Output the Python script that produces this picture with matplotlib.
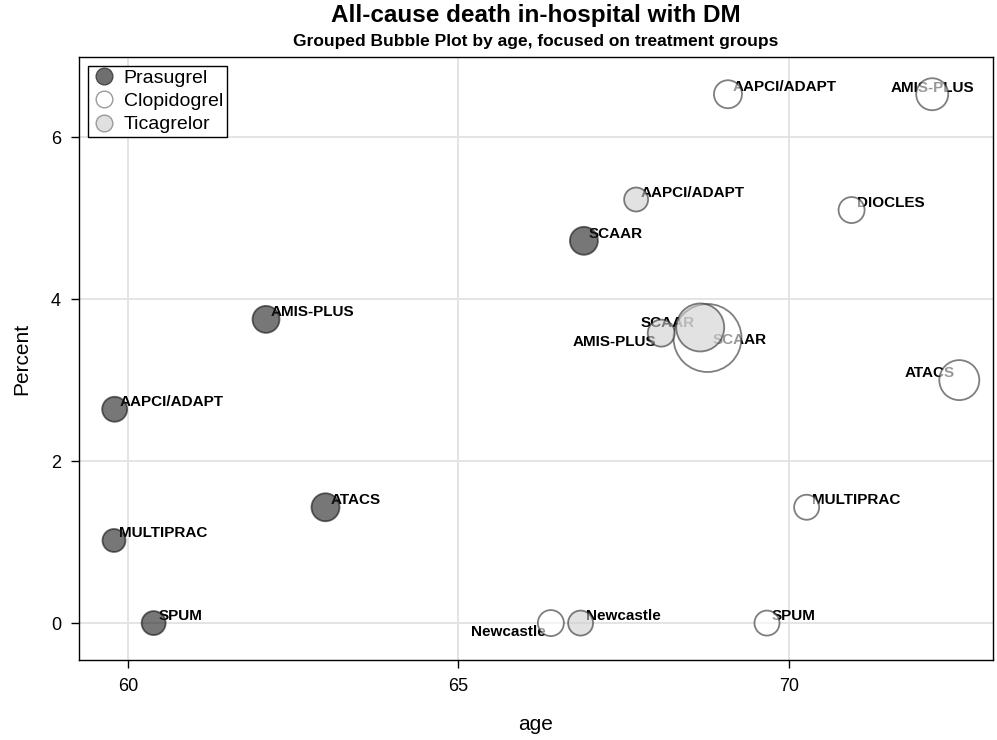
#!/usr/bin/env python3

import matplotlib

matplotlib.use("Agg")
import matplotlib.pyplot as plt
from matplotlib.lines import Line2D

plt.rcParams["font.family"] = ["Liberation Sans", "DejaVu Sans"]

# Prasugrel
prasugrel_labels = ["AAPCI/ADAPT", "MULTIPRAC", "SPUM", "AMIS-PLUS", "ATACS", "SCAAR"]
prasugrel_age = [59.80, 59.79, 60.39, 62.09, 62.99, 66.90]
prasugrel_pct = [2.64, 1.02, 0.0, 3.75, 1.43, 4.72]
prasugrel_size = [12.5, 11.5, 12.0, 13.5, 14.0, 14.0]

# Clopidogrel
clopidogrel_labels = ["AAPCI/ADAPT", "AMIS-PLUS", "DIOCLES", "ATACS", "MULTIPRAC",
                      "SPUM", "Newcastle", "SCAAR"]
clopidogrel_age = [69.08, 72.17, 70.95, 72.58, 70.27, 69.67, 66.40, 68.77]
clopidogrel_pct = [6.53, 6.53, 5.10, 3.00, 1.43, 0.0, 0.0, 3.52]
clopidogrel_size = [14.0, 16.0, 13.0, 20.0, 12.5, 12.5, 13.0, 34.0]

# Ticagrelor
ticagrelor_labels = ["AAPCI/ADAPT", "AMIS-PLUS", "SCAAR", "Newcastle"]
ticagrelor_age = [67.69, 68.07, 68.66, 66.85]
ticagrelor_pct = [5.23, 3.58, 3.65, 0.0]
ticagrelor_size = [12.0, 13.5, 24.0, 12.5]

# label placement codes (SAS-like collision avoidance)
prasugrel_place = ["ur"] * 6
clopidogrel_place = ["ur", "top", "ur", "left", "ur", "ur", "lowleft", "right"]
ticagrelor_place = ["ur", "lowleft", "left0", "ur"]

PLACES = {
    "ur": (5, 3, "left"),
    "top": (0, 2, "center"),
    "left": (-4.5, 3, "right"),
    "left0": (-5, 0, "right"),
    "lowleft": (-5, -13, "right"),
    "right": (5, -6, "left"),
}

DPI = 100


def Area(radius_px):
    diameter_pt = 2 * radius_px * 72.0 / DPI
    return diameter_pt ** 2


def DrawGroup(ax, ages, pcts, sizes, labels, places, face, edge):
    for age, pct, label, place in zip(ages, pcts, labels, places):
        dx, dy, ha = PLACES[place]
        ax.annotate(label, (age, pct), xytext=(dx, dy), textcoords="offset pixels",
                    ha=ha, va="baseline", fontsize=11, fontweight="bold",
                    color="black", zorder=2)
    ax.scatter(ages, pcts, s=[Area(r) for r in sizes], facecolor=face,
               edgecolor=edge, linewidths=1.3, alpha=0.6, zorder=3)


fig = plt.figure(figsize=(9.97, 7.4), dpi=DPI)
ax = fig.add_axes([0.0792, 0.108, 0.9168, 0.815])

DrawGroup(ax, prasugrel_age, prasugrel_pct, prasugrel_size, prasugrel_labels,
          prasugrel_place, "#1c1c1c", "#101010")
DrawGroup(ax, clopidogrel_age, clopidogrel_pct, clopidogrel_size, clopidogrel_labels,
          clopidogrel_place, "#ffffff", "#2a2a2a")
DrawGroup(ax, ticagrelor_age, ticagrelor_pct, ticagrelor_size, ticagrelor_labels,
          ticagrelor_place, "#cfcfcf", "#2a2a2a")

ax.set_xlim(59.26, 73.09)
ax.set_ylim(-0.457, 6.99)
ax.set_xticks([60, 65, 70])
ax.set_yticks([0, 2, 4, 6])
ax.grid(True, color="#e2e2e2", linewidth=1.3, zorder=0)
ax.set_axisbelow(True)
ax.tick_params(labelsize=13, length=6, width=1, pad=7)
for spine in ax.spines.values():
    spine.set_linewidth(1.0)

ax.set_xlabel("age", fontsize=15, labelpad=14)
ax.set_ylabel("Percent", fontsize=15, labelpad=14)

fig.text(0.537, 0.995, "All-cause death in-hospital with DM", ha="center",
         va="top", fontsize=17.5, fontweight="bold")
fig.text(0.537, 0.954, "Grouped Bubble Plot by age, focused on treatment groups",
         ha="center", va="top", fontsize=12.5, fontweight="bold")

handles = [
    Line2D([], [], marker="o", linestyle="none", markersize=12,
           markerfacecolor="#6f6f6f", markeredgecolor="#4a4a4a", label="Prasugrel"),
    Line2D([], [], marker="o", linestyle="none", markersize=12,
           markerfacecolor="#ffffff", markeredgecolor="#9a9a9a", label="Clopidogrel"),
    Line2D([], [], marker="o", linestyle="none", markersize=12,
           markerfacecolor="#e0e0e0", markeredgecolor="#9a9a9a", label="Ticagrelor"),
]
leg = ax.legend(handles=handles, loc="upper left", fontsize=14, frameon=True,
                fancybox=False, edgecolor="black", framealpha=1,
                borderpad=0.2, handletextpad=0.35, labelspacing=0.28,
                handlelength=1.3, borderaxespad=0.45)
leg.get_frame().set_linewidth(1.0)

fig.savefig("out.png", dpi=DPI)
